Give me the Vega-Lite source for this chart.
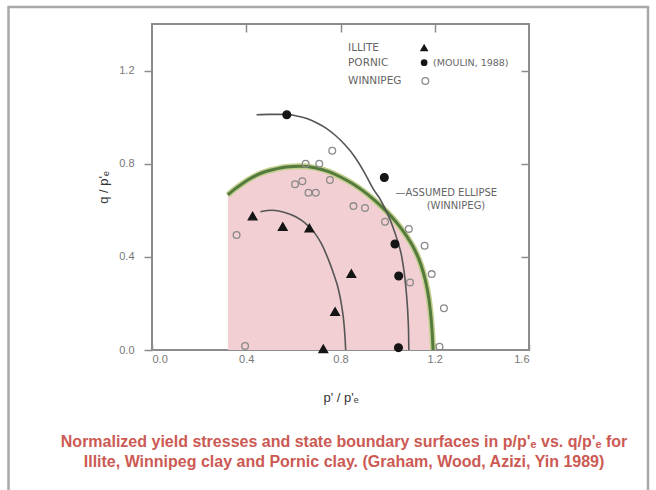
{
  "$schema": "https://vega.github.io/schema/vega-lite/v6.json",
  "width": 377,
  "height": 326,
  "autosize": "none",
  "padding": {"left": 152, "top": 24, "right": 127, "bottom": 140},
  "background": "white",
  "config": {
    "view": {"stroke": "#8c8c8c", "strokeWidth": 2},
    "font": "Liberation Sans"
  },
  "datasets": {
    "ellipse": [
      {"x": 0.322, "y": 0.666}, {"x": 0.35, "y": 0.69}, {"x": 0.38, "y": 0.712}, {"x": 0.41, "y": 0.732},
      {"x": 0.46, "y": 0.758}, {"x": 0.52, "y": 0.776}, {"x": 0.57, "y": 0.786}, {"x": 0.63, "y": 0.789},
      {"x": 0.69, "y": 0.783}, {"x": 0.75, "y": 0.766}, {"x": 0.8, "y": 0.743}, {"x": 0.85, "y": 0.715},
      {"x": 0.9, "y": 0.68}, {"x": 0.95, "y": 0.638}, {"x": 1.0, "y": 0.59}, {"x": 1.04, "y": 0.545},
      {"x": 1.08, "y": 0.49}, {"x": 1.11, "y": 0.44}, {"x": 1.14, "y": 0.37}, {"x": 1.16, "y": 0.3},
      {"x": 1.175, "y": 0.22}, {"x": 1.185, "y": 0.13}, {"x": 1.19, "y": 0.06}, {"x": 1.193, "y": 0.0}
    ],
    "pornic_curve": [
      {"x": 0.444, "y": 1.01}, {"x": 0.5, "y": 1.012}, {"x": 0.57, "y": 1.012}, {"x": 0.62, "y": 1.004},
      {"x": 0.66, "y": 0.993}, {"x": 0.7, "y": 0.975}, {"x": 0.74, "y": 0.952}, {"x": 0.78, "y": 0.92},
      {"x": 0.82, "y": 0.88}, {"x": 0.86, "y": 0.83}, {"x": 0.9, "y": 0.765}, {"x": 0.94, "y": 0.69},
      {"x": 0.97, "y": 0.645}, {"x": 0.99, "y": 0.605}, {"x": 1.02, "y": 0.535}, {"x": 1.04, "y": 0.475},
      {"x": 1.06, "y": 0.4}, {"x": 1.072, "y": 0.32}, {"x": 1.08, "y": 0.24}, {"x": 1.086, "y": 0.15},
      {"x": 1.089, "y": 0.07}, {"x": 1.09, "y": 0.0}
    ],
    "illite_curve": [
      {"x": 0.46, "y": 0.594}, {"x": 0.51, "y": 0.6}, {"x": 0.56, "y": 0.592}, {"x": 0.61, "y": 0.572},
      {"x": 0.65, "y": 0.545}, {"x": 0.69, "y": 0.503}, {"x": 0.72, "y": 0.455}, {"x": 0.75, "y": 0.385},
      {"x": 0.77, "y": 0.33}, {"x": 0.79, "y": 0.265}, {"x": 0.805, "y": 0.19}, {"x": 0.815, "y": 0.11},
      {"x": 0.82, "y": 0.04}, {"x": 0.822, "y": 0.0}
    ],
    "points": [
      {"series": "ILLITE", "x": 0.427, "y": 0.575}, {"series": "ILLITE", "x": 0.555, "y": 0.53},
      {"series": "ILLITE", "x": 0.668, "y": 0.524}, {"series": "ILLITE", "x": 0.846, "y": 0.328},
      {"series": "ILLITE", "x": 0.777, "y": 0.165}, {"series": "ILLITE", "x": 0.727, "y": 0.005},
      {"series": "PORNIC", "x": 0.572, "y": 1.01}, {"series": "PORNIC", "x": 0.986, "y": 0.741},
      {"series": "PORNIC", "x": 1.031, "y": 0.455}, {"series": "PORNIC", "x": 1.047, "y": 0.318},
      {"series": "PORNIC", "x": 1.046, "y": 0.01},
      {"series": "WINNIPEG", "x": 0.765, "y": 0.856}, {"series": "WINNIPEG", "x": 0.652, "y": 0.8},
      {"series": "WINNIPEG", "x": 0.71, "y": 0.8}, {"series": "WINNIPEG", "x": 0.607, "y": 0.712},
      {"series": "WINNIPEG", "x": 0.638, "y": 0.725}, {"series": "WINNIPEG", "x": 0.664, "y": 0.675},
      {"series": "WINNIPEG", "x": 0.695, "y": 0.675}, {"series": "WINNIPEG", "x": 0.755, "y": 0.73},
      {"series": "WINNIPEG", "x": 0.359, "y": 0.494}, {"series": "WINNIPEG", "x": 0.855, "y": 0.618},
      {"series": "WINNIPEG", "x": 0.904, "y": 0.61}, {"series": "WINNIPEG", "x": 0.989, "y": 0.551},
      {"series": "WINNIPEG", "x": 1.09, "y": 0.52}, {"series": "WINNIPEG", "x": 1.157, "y": 0.448},
      {"series": "WINNIPEG", "x": 1.187, "y": 0.326}, {"series": "WINNIPEG", "x": 1.095, "y": 0.29},
      {"series": "WINNIPEG", "x": 1.239, "y": 0.179}, {"series": "WINNIPEG", "x": 1.22, "y": 0.014},
      {"series": "WINNIPEG", "x": 0.395, "y": 0.017}
    ]
  },
  "layer": [
    {
      "data": {"values": [{}]},
      "layer": [
        {
          "data": {"name": "ellipse"},
          "mark": {"type": "area", "color": "#f2cfd2", "interpolate": "monotone"},
          "encoding": {
            "x": {"field": "x", "type": "quantitative", "scale": {"domain": [0, 1.6], "nice": false, "zero": false},
              "axis": {"orient": "bottom", "values": [0, 0.4, 0.8, 1.2, 1.6], "format": ".1f", "domain": false, "grid": false,
                "tickSize": -6, "tickColor": "#8c8c8c", "tickWidth": 1.5, "labelFontSize": 11, "labelColor": "#777", "labelPadding": 9,
                "title": "p' / p'ₑ", "titleFontSize": 13, "titleFontWeight": "normal", "titleColor": "#333", "titlePadding": 27}},
            "y": {"field": "y", "type": "quantitative", "scale": {"domain": [0, 1.4], "nice": false, "zero": false},
              "axis": {"orient": "left", "values": [0, 0.4, 0.8, 1.2], "format": ".1f", "domain": false, "grid": false,
                "tickSize": 8, "tickColor": "#8c8c8c", "tickWidth": 1.5, "labelFontSize": 11, "labelColor": "#777", "labelPadding": 10,
                "title": "q / p'ₑ", "titleFontSize": 13, "titleFontWeight": "normal", "titleColor": "#333", "titlePadding": 8}}
          }
        },
        {
          "data": {"name": "ellipse"},
          "mark": {"type": "line", "color": "#c3cf8e", "strokeWidth": 6, "interpolate": "monotone"},
          "encoding": {"x": {"field": "x", "type": "quantitative"}, "y": {"field": "y", "type": "quantitative"}}
        },
        {
          "data": {"name": "ellipse"},
          "mark": {"type": "line", "color": "#557a3e", "strokeWidth": 3, "interpolate": "monotone"},
          "encoding": {"x": {"field": "x", "type": "quantitative"}, "y": {"field": "y", "type": "quantitative"}}
        },
        {
          "data": {"name": "pornic_curve"},
          "mark": {"type": "line", "color": "#555", "strokeWidth": 1.6, "interpolate": "monotone"},
          "encoding": {"x": {"field": "x", "type": "quantitative"}, "y": {"field": "y", "type": "quantitative"}}
        },
        {
          "data": {"name": "illite_curve"},
          "mark": {"type": "line", "color": "#555", "strokeWidth": 1.6, "interpolate": "monotone"},
          "encoding": {"x": {"field": "x", "type": "quantitative"}, "y": {"field": "y", "type": "quantitative"}}
        },
        {
          "data": {"name": "points"},
          "mark": {"type": "point", "strokeWidth": 1.3, "opacity": 1},
          "encoding": {
            "x": {"field": "x", "type": "quantitative"},
            "y": {"field": "y", "type": "quantitative"},
            "shape": {"field": "series", "type": "nominal", "scale": {"domain": ["ILLITE", "PORNIC", "WINNIPEG"], "range": ["triangle-up", "circle", "circle"]}, "legend": null},
            "fill": {"field": "series", "type": "nominal", "scale": {"domain": ["ILLITE", "PORNIC", "WINNIPEG"], "range": ["#151515", "#151515", "transparent"]}, "legend": null},
            "stroke": {"field": "series", "type": "nominal", "scale": {"domain": ["ILLITE", "PORNIC", "WINNIPEG"], "range": ["#151515", "#151515", "#8a8a8a"]}, "legend": null},
            "size": {"field": "series", "type": "nominal", "scale": {"domain": ["ILLITE", "PORNIC", "WINNIPEG"], "range": [75, 45, 45]}, "legend": null}
          }
        },
        {
          "mark": {"type": "text", "text": "ILLITE", "align": "left", "baseline": "middle", "font": "DejaVu Sans", "fontSize": 10.5, "color": "#666"},
          "encoding": {"x": {"datum": 0.832}, "y": {"datum": 1.299}}
        },
        {
          "mark": {"type": "text", "text": "PORNIC", "align": "left", "baseline": "middle", "font": "DejaVu Sans", "fontSize": 10.5, "color": "#666"},
          "encoding": {"x": {"datum": 0.832}, "y": {"datum": 1.234}}
        },
        {
          "mark": {"type": "text", "text": "WINNIPEG", "align": "left", "baseline": "middle", "font": "DejaVu Sans", "fontSize": 10.5, "color": "#666"},
          "encoding": {"x": {"datum": 0.832}, "y": {"datum": 1.155}}
        },
        {
          "mark": {"type": "text", "text": "(MOULIN, 1988)", "align": "left", "baseline": "middle", "font": "DejaVu Sans", "fontSize": 9.5, "color": "#666"},
          "encoding": {"x": {"datum": 1.193}, "y": {"datum": 1.234}}
        },
        {
          "mark": {"type": "point", "shape": "triangle-up", "filled": true, "color": "#151515", "size": 75, "opacity": 1},
          "encoding": {"x": {"datum": 1.155}, "y": {"datum": 1.299}}
        },
        {
          "mark": {"type": "point", "shape": "circle", "filled": true, "color": "#151515", "size": 45, "opacity": 1},
          "encoding": {"x": {"datum": 1.155}, "y": {"datum": 1.234}}
        },
        {
          "mark": {"type": "point", "shape": "circle", "filled": false, "color": "#8a8a8a", "strokeWidth": 1.3, "size": 45, "opacity": 1},
          "encoding": {"x": {"datum": 1.16}, "y": {"datum": 1.155}}
        },
        {
          "mark": {"type": "text", "text": "—ASSUMED ELLIPSE", "align": "left", "baseline": "middle", "font": "DejaVu Sans", "fontSize": 10, "color": "#666"},
          "encoding": {"x": {"datum": 1.033}, "y": {"datum": 0.674}}
        },
        {
          "mark": {"type": "text", "text": "(WINNIPEG)", "align": "center", "baseline": "middle", "font": "DejaVu Sans", "fontSize": 10, "color": "#666"},
          "encoding": {"x": {"datum": 1.29}, "y": {"datum": 0.618}}
        },
        {
          "mark": {"type": "text", "text": "Normalized yield stresses and state boundary surfaces in p/p'ₑ vs. q/p'ₑ for", "align": "center", "baseline": "middle", "font": "Liberation Sans", "fontSize": 16, "fontWeight": "bold", "color": "#cc5a54", "clip": false},
          "encoding": {"x": {"datum": 0.815}, "y": {"datum": -0.395}}
        },
        {
          "mark": {"type": "text", "text": "Illite, Winnipeg clay and Pornic clay. (Graham, Wood, Azizi, Yin 1989)", "align": "center", "baseline": "middle", "font": "Liberation Sans", "fontSize": 16, "fontWeight": "bold", "color": "#cc5a54", "clip": false},
          "encoding": {"x": {"datum": 0.815}, "y": {"datum": -0.481}}
        },
        {
          "mark": {"type": "rect", "fill": null, "fillOpacity": 0, "stroke": "#a8a8a8", "strokeWidth": 2.5, "clip": false},
          "encoding": {"x": {"datum": -0.609}, "x2": {"datum": 2.105}, "y": {"datum": 1.473}, "y2": {"datum": -0.62}}
        }
      ]
    },
    {
      "data": {"name": "ellipse"},
      "mark": {"type": "point", "opacity": 0},
      "encoding": {
        "x": {"field": "x", "type": "quantitative", "scale": {"domain": [0, 1.6], "nice": false, "zero": false},
          "axis": {"orient": "top", "values": [0.4, 0.8, 1.2], "labels": false, "domain": false, "grid": false, "title": null,
            "tickSize": -8, "tickColor": "#8c8c8c", "tickWidth": 1.5}},
        "y": {"field": "y", "type": "quantitative", "scale": {"domain": [0, 1.4], "nice": false, "zero": false},
          "axis": {"orient": "right", "values": [0.4, 0.8, 1.2], "labels": false, "domain": false, "grid": false, "title": null,
            "tickSize": -8, "tickColor": "#8c8c8c", "tickWidth": 1.5}}
      }
    }
  ],
  "resolve": {"axis": {"x": "independent", "y": "independent"}}
}
